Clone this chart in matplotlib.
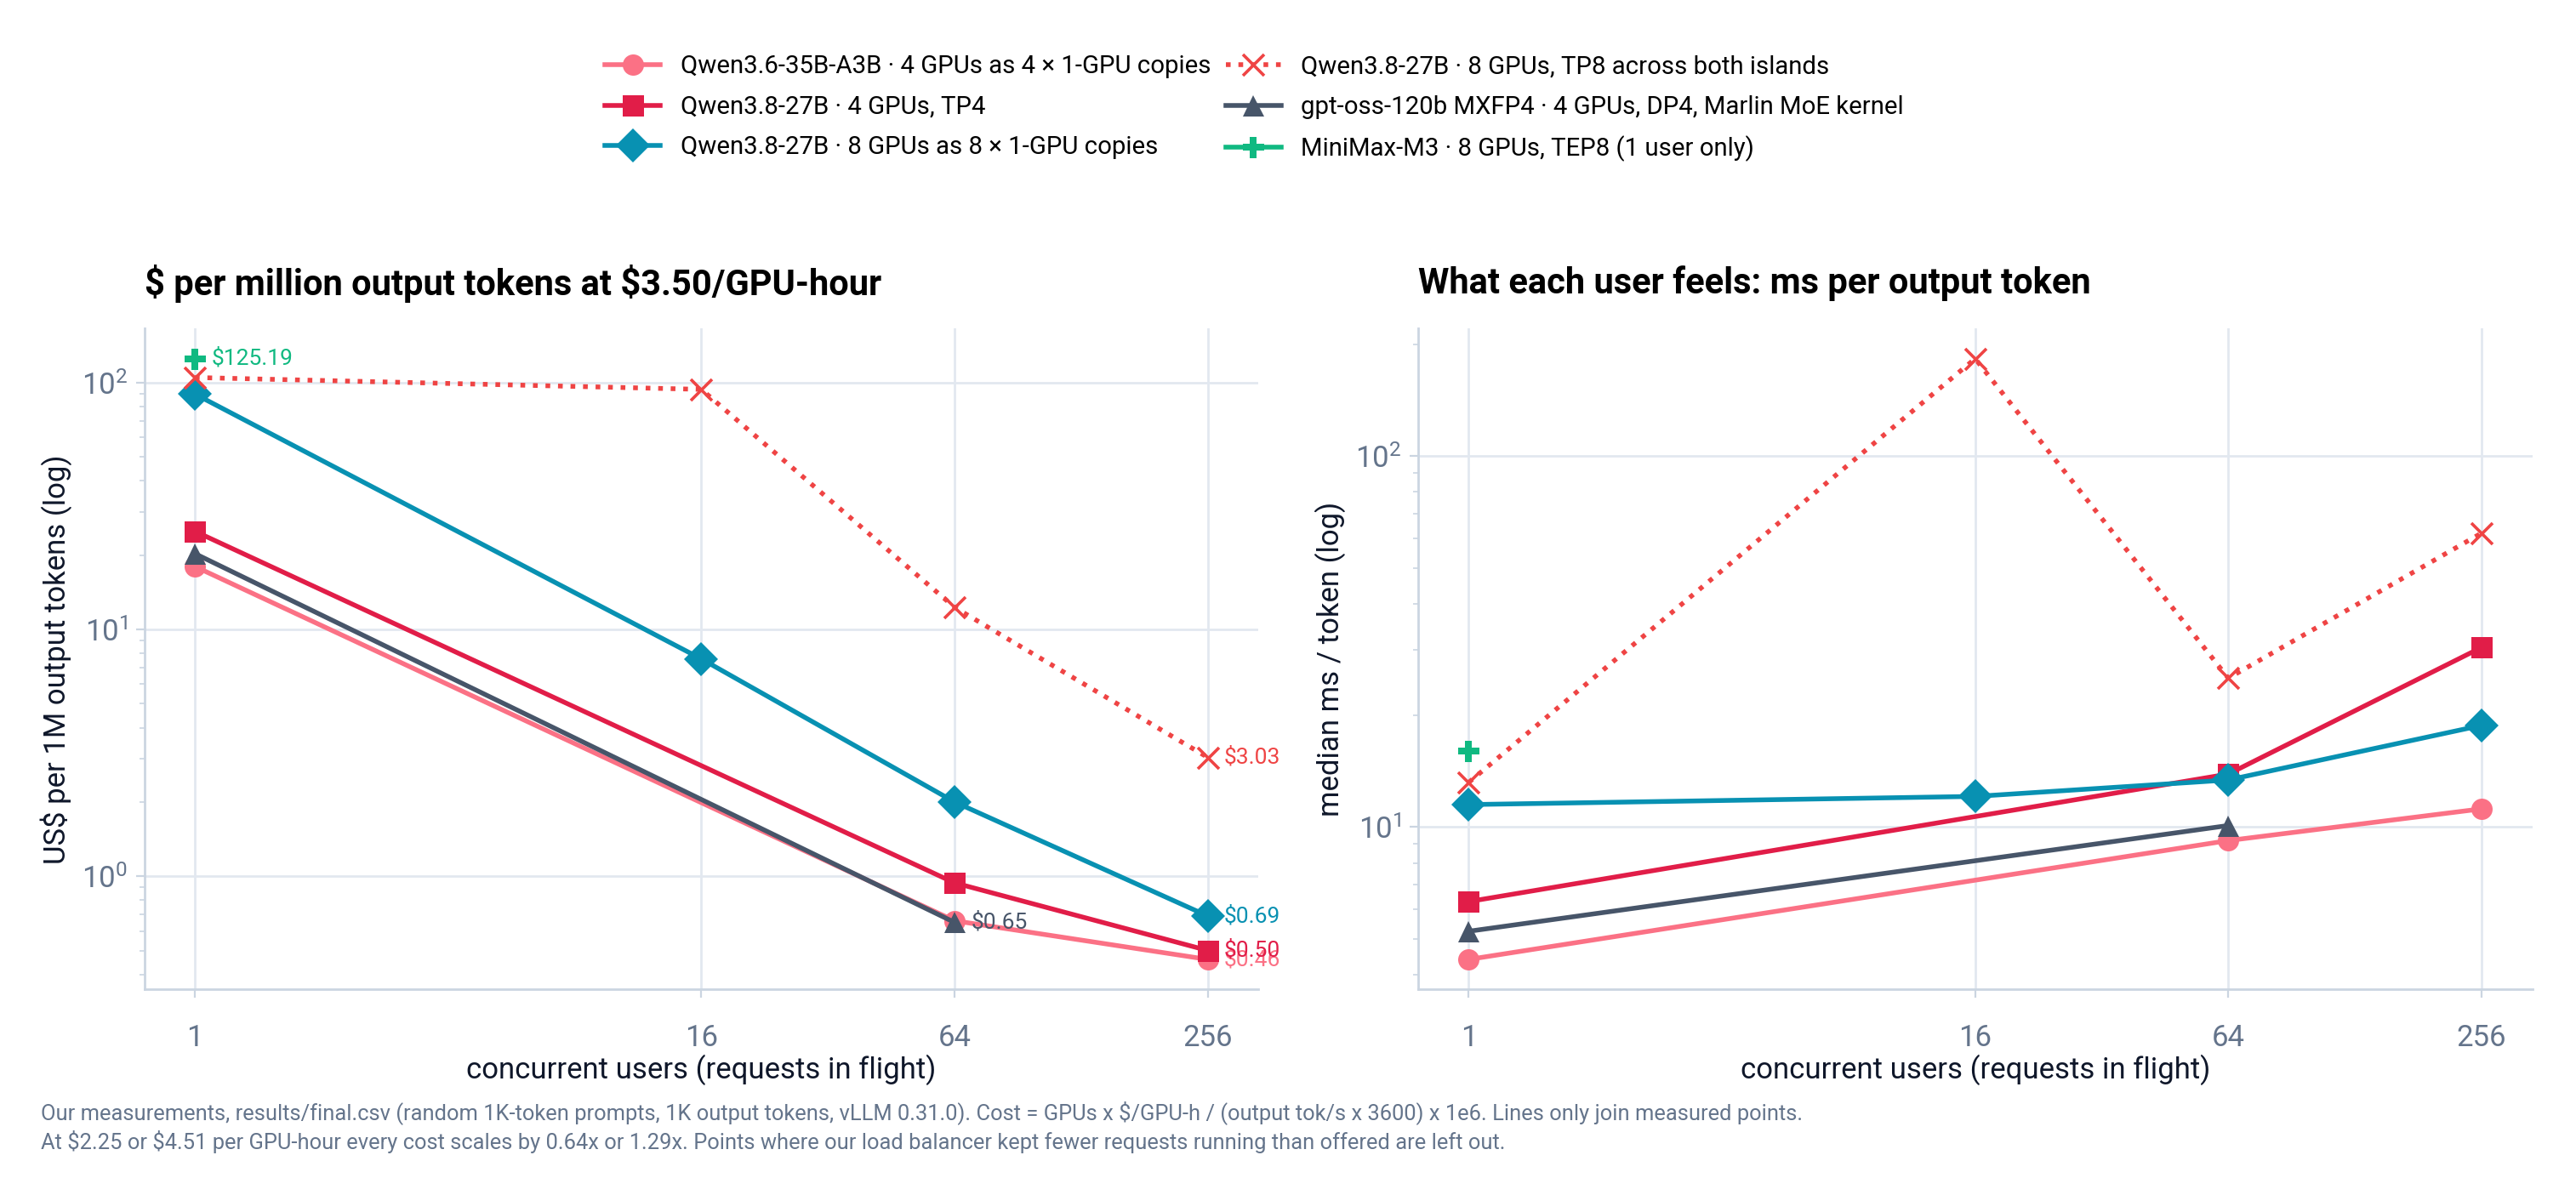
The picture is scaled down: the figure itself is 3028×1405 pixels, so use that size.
import matplotlib
matplotlib.use("Agg")
import matplotlib.pyplot as plt
import numpy as np

plt.rcParams['font.family'] = ['Roboto', 'DejaVu Sans']

# concurrency levels measured
users_all = [1, 16, 64, 256]
users_no16 = [1, 64, 256]
users_gpt = [1, 64]
users_mm = [1]

# $ per 1M output tokens at $3.50/GPU-hour
cost_qwen36 = [18.0, 0.66, 0.46]
cost_tp4 = [25.0, 0.94, 0.50]
cost_8x1 = [90.0, 7.6, 2.0, 0.69]
cost_tp8 = [105.0, 94.0, 12.3, 3.03]
cost_gptoss = [20.3, 0.65]
cost_minimax = [125.19]

# median ms per output token
ms_qwen36 = [4.4, 9.2, 11.2]
ms_tp4 = [6.3, 13.9, 30.5]
ms_8x1 = [11.5, 12.1, 13.4, 18.8]
ms_tp8 = [13.2, 183.0, 25.2, 62.0]
ms_gptoss = [5.24, 10.1]
ms_minimax = [16.0]

labels = [
    "Qwen3.6-35B-A3B · 4 GPUs as 4 × 1-GPU copies",
    "Qwen3.8-27B · 4 GPUs, TP4",
    "Qwen3.8-27B · 8 GPUs as 8 × 1-GPU copies",
    "Qwen3.8-27B · 8 GPUs, TP8 across both islands",
    "gpt-oss-120b MXFP4 · 4 GPUs, DP4, Marlin MoE kernel",
    "MiniMax-M3 · 8 GPUs, TEP8 (1 user only)",
]
colors = ["#fb7185", "#e11d48", "#0891b2", "#ef4444", "#475569", "#10b981"]
markers = ["o", "s", "D", "x", "^", "P"]
msizes = [9, 9, 10, 9, 9, 9]
styles = ["-", "-", "-", ":", "-", "-"]
xs = [users_no16, users_no16, users_all, users_all, users_gpt, users_mm]
costs = [cost_qwen36, cost_tp4, cost_8x1, cost_tp8, cost_gptoss, cost_minimax]
mss = [ms_qwen36, ms_tp4, ms_8x1, ms_tp8, ms_gptoss, ms_minimax]

grid_c = "#e2e8f0"
tick_c = "#64748b"

fig = plt.figure(figsize=(15.14, 7.025), dpi=200)
ax1 = fig.add_axes([0.056, 0.172, 0.4325, 0.553])
ax2 = fig.add_axes([0.5505, 0.172, 0.4325, 0.553])

handles = []
for i in range(6):
    for ax, ys in ((ax1, costs[i]), (ax2, mss[i])):
        mew = 1.3 if markers[i] == "x" else 0
        h, = ax.plot(xs[i], ys, color=colors[i], ls=styles[i], lw=2.0,
                     marker=markers[i], ms=msizes[i], mew=mew,
                     mec=colors[i], label=labels[i], zorder=3)
        if ax is ax1:
            handles.append(h)
    # value label at the last measured point on the cost chart
    ax1.annotate("\\$%.2f" % costs[i][-1], (xs[i][-1], costs[i][-1]),
                 xytext=(7, 0), textcoords="offset points", va="center",
                 ha="left", fontsize=9.5, color=colors[i], zorder=4)

for ax in (ax1, ax2):
    ax.set_xscale("log", base=2)
    ax.set_yscale("log")
    ax.set_xticks(users_all)
    ax.set_xticklabels([str(u) for u in users_all])
    ax.grid(True, which="major", color=grid_c, lw=1.0, zorder=0)
    for s in ("top", "right"):
        ax.spines[s].set_visible(False)
    for s in ("left", "bottom"):
        ax.spines[s].set_color("#cbd5e1")
        ax.spines[s].set_linewidth(1.0)
    ax.tick_params(which="both", colors="#cbd5e1", labelcolor=tick_c, labelsize=12.5)
    ax.tick_params(axis="x", which="major", pad=11)
    ax.tick_params(axis="x", which="minor", bottom=False)
    ax.set_xlabel("concurrent users (requests in flight)", fontsize=12.5,
                  color="#0f172a", labelpad=1)

ax1.set_ylabel("US$ per 1M output tokens (log)", fontsize=12.5, color="#0f172a")
ax2.set_ylabel("median ms / token (log)", fontsize=12.5, color="#0f172a")

ax1.text(0.0, 1.068, "\\$ per million output tokens at \\$3.50/GPU-hour",
         transform=ax1.transAxes, fontsize=15, fontweight="bold", ha="left", va="center")
ax2.text(0.0, 1.068, "What each user feels: ms per output token",
         transform=ax2.transAxes, fontsize=15, fontweight="bold", ha="left", va="center")

fig.legend(handles=handles, ncol=2, loc="upper center", bbox_to_anchor=(0.487, 0.973),
           frameon=False, fontsize=10.6, handlelength=2.2, columnspacing=0.6,
           labelspacing=0.66)

fig.text(0.016, 0.057,
         "Our measurements, results/final.csv (random 1K-token prompts, 1K output tokens, vLLM 0.31.0). "
         "Cost = GPUs x \\$/GPU-h / (output tok/s x 3600) x 1e6. Lines only join measured points.\n"
         "At \\$2.25 or \\$4.51 per GPU-hour every cost scales by 0.64x or 1.29x. "
         "Points where our load balancer kept fewer requests running than offered are left out.",
         fontsize=9.2, color=tick_c, ha="left", va="center", linespacing=1.35)

fig.savefig("out.png", dpi=200)
